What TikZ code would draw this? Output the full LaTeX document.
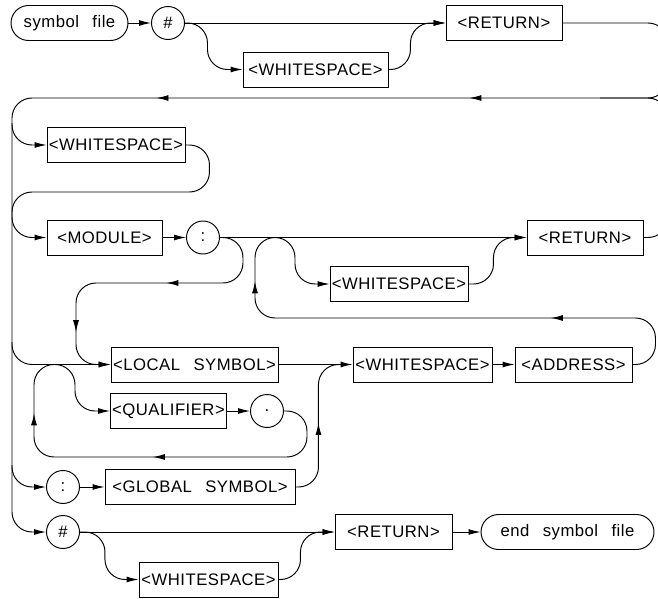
\documentclass[tikz,border=0pt]{standalone}
\usepackage{fontspec}
\setmainfont{Liberation Sans}[LetterSpace=3]
\usetikzlibrary{arrows.meta, decorations.markings}
\newcommand{\wgap}{\hspace{0.8em}}

\begin{document}
\begin{tikzpicture}[x=0.02cm, y=-0.02cm, line width=0.55pt,
  >={Latex[length=2.4mm,width=1.2mm]},
  font=\fontsize{9.5}{11}\selectfont,
  box/.style={draw, minimum height=0.7cm, inner sep=0pt},
  term/.style={draw, rounded corners=0.35cm, minimum height=0.7cm, inner sep=0pt},
  lit/.style={draw, circle, minimum size=0.66cm, inner sep=0pt},
  rail/.style={rounded corners=0.4cm},
  flowat/.style={postaction={decorate, decoration={markings, mark=at position #1 with {\arrow{>}}}}}]
  \useasboundingbox (0,0) rectangle (658,598);
  \clip (0,0) rectangle (658,598);

  \node[term, minimum width=2.34cm] (start) at (69.5,23) {symbol\wgap file};
  \node[lit] (hashA) at (168,23) {\#};
  \node[box, minimum width=2.32cm] (retA) at (504,23) {<RETURN>};
  \node[box, minimum width=2.9cm] (wsA) at (315.5,69.5) {<WHITESPACE>};
  \node[box, minimum width=2.76cm] (wsB) at (116,145) {<WHITESPACE>};
  \node[box, minimum width=2.3cm] (module) at (104.5,237.5) {<MODULE>};
  \node[lit] (colonA) at (203,237.5) {:};
  \node[box, minimum width=2.32cm] (retB) at (585,237.5) {<RETURN>};
  \node[box, minimum width=2.76cm] (wsC) at (399,284) {<WHITESPACE>};
  \node[box, minimum width=3.34cm] (local) at (194.5,364.5) {<LOCAL\wgap SYMBOL>};
  \node[box, minimum width=2.78cm] (wsD) at (422.5,364.5) {<WHITESPACE>};
  \node[box, minimum width=2.34cm] (addr) at (573.5,364.5) {<ADDRESS>};
  \node[box, minimum width=2.32cm] (qual) at (168.5,411) {<QUALIFIER>};
  \node[lit] (dotA) at (267,411) {.};
  \node[lit] (colonB) at (63,487) {:};
  \node[box, minimum width=3.8cm] (global) at (200,487) {<GLOBAL\wgap SYMBOL>};
  \node[lit] (hashB) at (63,532) {\#};
  \node[box, minimum width=2.34cm] (retC) at (393.5,532) {<RETURN>};
  \node[term, minimum width=3.46cm] (endf) at (567.5,532) {end\wgap symbol\wgap file};
  \node[box, minimum width=2.78cm] (wsE) at (208.5,579.5) {<WHITESPACE>};

  \coordinate (rcol) at (668,98);
  \coordinate (tl) at (12,98);
  \coordinate (jret) at (600,98);
  \coordinate (jwsB) at (12,123);
  \coordinate (jmod) at (12,192);
  \coordinate (jlocB) at (76,283);
  \coordinate (jwsC) at (273,237.5);
  \coordinate (jloopB) at (255,318);
  \coordinate (jloop) at (277,237.5);
  \coordinate (jloc) at (12,342);
  \coordinate (jq) at (34,457);
  \coordinate (jqtop) at (75,364.5);
  \coordinate (jgl) at (340,364.5);
  \coordinate (jglob) at (12,465);

  \draw[->] (start) -- (hashA);
  \draw[->] (hashA) -- (retA);
  \draw[->, rail] (hashA.east) -- ++(22.5,0) |- (wsA.west);
  \draw[->, rail] (wsA.east) -- ++(22,0) |- (retA.west);
  \draw[->, rail, flowat=7.24cm, flowat=13.5cm] (retA.east) -| (rcol) -- (tl) |- (hashB.west);
  \draw[rail] (retB.east) -| (rcol) -- (jret);
  \draw[->, rail] (jwsB) |- (wsB.west);
  \draw[->, rail] (wsB.east) -- ++(24,0) |- (jmod) |- (module.west);
  \draw[->] (module) -- (colonA);
  \draw[->] (colonA) -- (retB);
  \draw[->, rail, flowat=2.56cm, flowat=5.18cm] (colonA.east) -- ++(23,0) |- (jlocB) |- (local.west);
  \draw[->, rail] (jwsC) -- ++(22,0) |- (wsC.west);
  \draw[->, rail] (wsC.east) -- ++(25,0) |- (retB.west);
  \draw[rail, flowat=3.14cm, flowat=9.62cm] (addr.east) -- ++(23,0) |- (jloopB) |- (jloop);
  \draw[->, rail] (jloc) |- (local.west);
  \draw[->] (local) -- (wsD);
  \draw[->] (wsD) -- (addr);
  \draw[->, rail, flowat=4.12cm, flowat=7.2cm] (dotA.east) -- ++(23,0) |- (jq) |- (jqtop) |- (qual.west);
  \draw[->] (qual) -- (dotA);
  \draw[->, rail] (jglob) |- (colonB.west);
  \draw[->] (colonB) -- (global);
  \draw[rail, flowat=1.57cm] (global.east) -- ++(23,0) |- (jgl);
  \draw[->] (hashB) -- (retC);
  \draw[->, rail] (hashB.east) -- ++(25,0) |- (wsE.west);
  \draw[->, rail] (wsE.east) -- ++(22,0) |- (retC.west);
  \draw[->] (retC) -- (endf);
\end{tikzpicture}
\end{document}
